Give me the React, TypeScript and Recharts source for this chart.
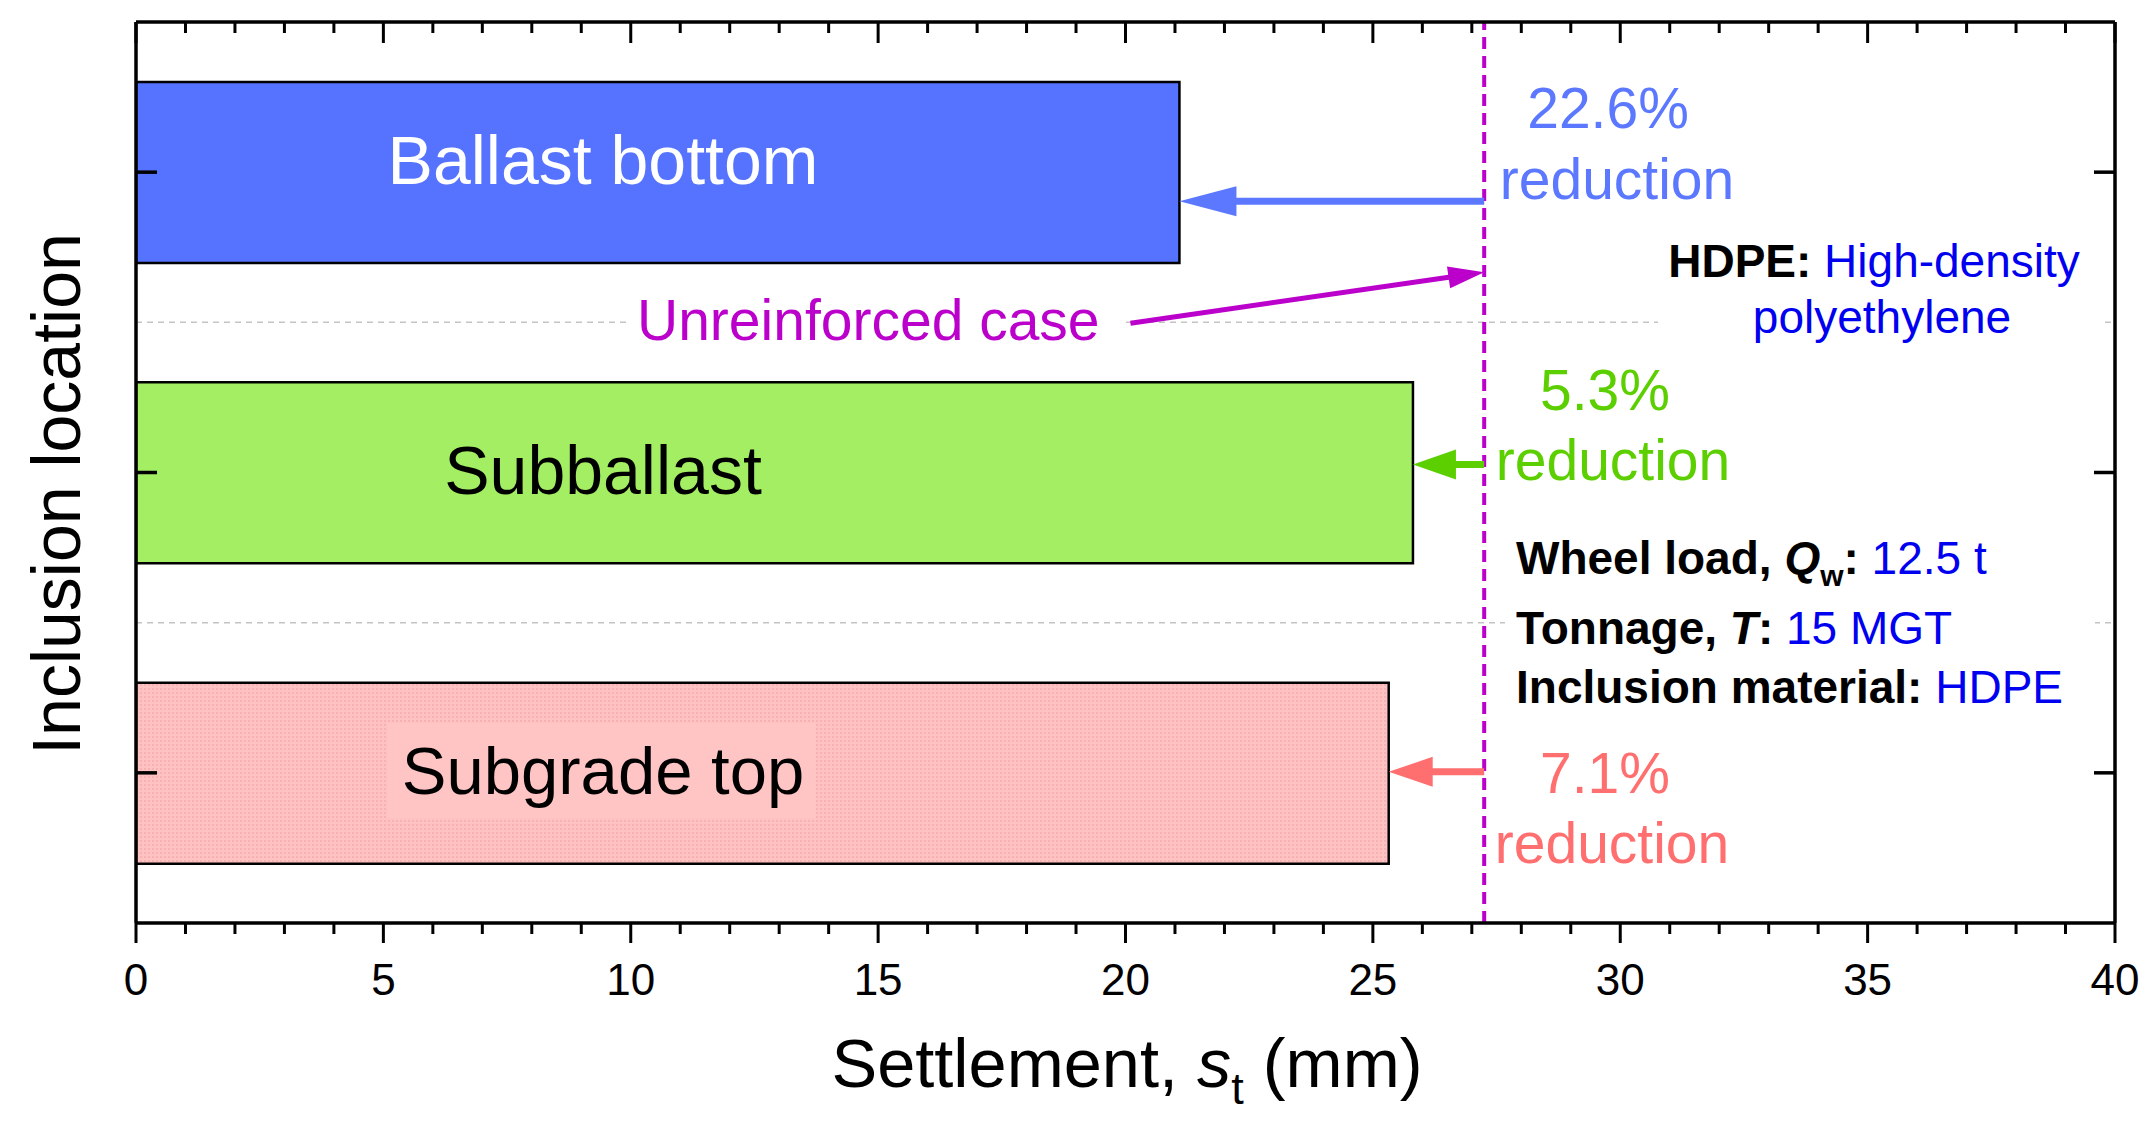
import React from "react";
import { BarChart, Bar, XAxis, YAxis, CartesianGrid, ReferenceLine, Cell } from "recharts";

const categories = ["Ballast bottom", "Subballast", "Subgrade top"];
const settlement = [21.09, 25.81, 25.32];
const unreinforced = 27.25;
const reductions = ["22.6%", "5.3%", "7.1%"];
const majorTicks = [0, 5, 10, 15, 20, 25, 30, 35, 40];
const minorTicks = [0, 1, 2, 3, 4, 5, 6, 7, 8, 9, 10, 11, 12, 13, 14, 15, 16, 17, 18, 19, 20, 21, 22, 23, 24, 25, 26, 27, 28, 29, 30, 31, 32, 33, 34, 35, 36, 37, 38, 39, 40];
const pointerFromX = 20.1;

const barFills = ["#5573ff", "#a3ee63", "url(#pinkDots)"];
const accents = ["#5b78ff", "#5ccf00", "#ff6f6f"];
const MAGENTA = "#bb00cc";
const INFO_BLUE = "#0000f0";
const FONT = "'Liberation Sans', Arial, sans-serif";

const data = categories.map((name, i) => ({ name, value: settlement[i] }));

// arrow: pixel shift from the band centre, head length, head half width, line width
const arrowStyles = [
  { shift: 29, head: 57, half: 15, width: 7 },
  { shift: -8, head: 43, half: 15, width: 7 },
  { shift: -1, head: 44, half: 15, width: 7 },
];

const arrowShape =
  (color: string, head: number, half: number, width: number, shiftStart: number, shiftEnd: number) =>
  (p: any) => {
    const x1 = p.x1;
    const x2 = p.x2;
    const y1 = p.y1 + shiftStart;
    const y2 = p.y2 + shiftEnd;
    const dx = x2 - x1;
    const dy = y2 - y1;
    const len = Math.hypot(dx, dy) || 1;
    const ux = dx / len;
    const uy = dy / len;
    const bx = x2 - ux * head;
    const by = y2 - uy * head;
    const nx = -uy;
    const ny = ux;
    return (
      <g>
        <line x1={x1} y1={y1} x2={bx + ux * 2} y2={by + uy * 2} stroke={color} strokeWidth={width} />
        <polygon
          points={`${x2},${y2} ${bx + nx * half},${by + ny * half} ${bx - nx * half},${by - ny * half}`}
          fill={color}
        />
      </g>
    );
  };

const BottomTick = (p: any) => {
  const { x, y, payload } = p;
  const major = majorTicks.includes(payload.value);
  return (
    <g>
      <line x1={x} y1={y} x2={x} y2={y + (major ? 20 : 11)} stroke="#000" strokeWidth={3} />
      {major && (
        <text x={x} y={y + 41} dy="0.71em" textAnchor="middle" fontSize={44} fill="#000" fontFamily={FONT}>
          {payload.value}
        </text>
      )}
    </g>
  );
};

const TopTick = (p: any) => {
  const { x, y, payload } = p;
  const major = majorTicks.includes(payload.value);
  return <line x1={x} y1={y} x2={x} y2={y + (major ? 21 : 11)} stroke="#000" strokeWidth={3} />;
};

const LeftTick = (p: any) => <line x1={p.x} y1={p.y} x2={p.x + 21} y2={p.y} stroke="#000" strokeWidth={3.5} />;
const RightTick = (p: any) => <line x1={p.x} y1={p.y} x2={p.x - 21} y2={p.y} stroke="#000" strokeWidth={3.5} />;

const bandBoundaries = ({ yAxis, offset }: any) => {
  if (yAxis && typeof yAxis.scale === "function") {
    return categories.slice(1).map((c) => yAxis.scale(c));
  }
  return [1, 2].map((k) => offset.top + (offset.height * k) / categories.length);
};

function Annotations() {
  return (
    <svg
      width={2152}
      height={1130}
      style={{ position: "absolute", left: 0, top: 0, pointerEvents: "none", fontFamily: FONT }}
    >
      {/* bar labels */}
      <text x={603} y={184} fontSize={68} fill="#fff" textAnchor="middle">{categories[0]}</text>
      <text x={603} y={494} fontSize={68} fill="#000" textAnchor="middle">{categories[1]}</text>
      <rect x={387} y={723} width={429} height={95} fill="#ffc4c4" />
      <text x={603} y={794} fontSize={67} fill="#000" textAnchor="middle">{categories[2]}</text>

      {/* unreinforced label */}
      <rect x={628} y={290} width={498} height={66} fill="#fff" />
      <text x={637} y={340} fontSize={57} fill={MAGENTA}>Unreinforced case</text>

      {/* reductions */}
      <text x={1608} y={128} fontSize={57} fill={accents[0]} textAnchor="middle">{reductions[0]}</text>
      <text x={1617} y={199} fontSize={57} fill={accents[0]} textAnchor="middle">reduction</text>
      <text x={1605} y={410} fontSize={57} fill={accents[1]} textAnchor="middle">{reductions[1]}</text>
      <text x={1613} y={480} fontSize={57} fill={accents[1]} textAnchor="middle">reduction</text>
      <text x={1605} y={793} fontSize={57} fill={accents[2]} textAnchor="middle">{reductions[2]}</text>
      <text x={1612} y={863} fontSize={57} fill={accents[2]} textAnchor="middle">reduction</text>

      {/* HDPE note */}
      <rect x={1658} y={235} width={446} height={112} fill="#fff" />
      <text x={1874} y={277} fontSize={46} textAnchor="middle">
        <tspan fontWeight="bold" fill="#000">HDPE:</tspan>
        <tspan fill={INFO_BLUE}> High-density</tspan>
      </text>
      <text x={1882} y={333} fontSize={46} textAnchor="middle" fill={INFO_BLUE}>polyethylene</text>

      {/* test info */}
      <rect x={1505} y={530} width={590} height={190} fill="#fff" />
      <text x={1516} y={574} fontSize={46} fontWeight="bold" fill="#000">
        Wheel load, <tspan fontStyle="italic">Q</tspan>
        <tspan fontSize={30} dy={12}>w</tspan>
        <tspan dy={-12}>:</tspan>
        <tspan fontWeight="normal" fill={INFO_BLUE}> 12.5 t</tspan>
      </text>
      <text x={1516} y={644} fontSize={46} fontWeight="bold" fill="#000">
        Tonnage, <tspan fontStyle="italic">T</tspan>:
        <tspan fontWeight="normal" fill={INFO_BLUE}> 15 MGT</tspan>
      </text>
      <text x={1516} y={703} fontSize={46} fontWeight="bold" fill="#000">
        Inclusion material:
        <tspan fontWeight="normal" fill={INFO_BLUE}> HDPE</tspan>
      </text>

      {/* axis titles */}
      <text x={1127} y={1087} fontSize={68.5} fill="#000" textAnchor="middle">
        Settlement, <tspan fontStyle="italic">s</tspan>
        <tspan fontSize={45} dy={17}>t</tspan>
        <tspan dy={-17}> (mm)</tspan>
      </text>
      <text x={80} y={494} fontSize={68} fill="#000" textAnchor="middle" transform="rotate(-90, 80, 494)">
        Inclusion location
      </text>
    </svg>
  );
}

export default function App() {
  const axisLine = { stroke: "#000", strokeWidth: 3.5 };
  return (
    <div style={{ position: "absolute", left: 0, top: 0, width: 2152, height: 1130, background: "#fff" }}>
      <svg width={0} height={0} style={{ position: "absolute" }}>
        <defs>
          <pattern id="pinkDots" width={4} height={4} patternUnits="userSpaceOnUse">
            <rect width={4} height={4} fill="#ffc2c2" />
            <circle cx={1} cy={1} r={0.8} fill="#f09c9c" />
          </pattern>
        </defs>
      </svg>
      <BarChart
        width={2152}
        height={1130}
        layout="vertical"
        data={data}
        margin={{ top: 21, right: 36, bottom: 206, left: 135 }}
        style={{ fontFamily: FONT }}
      >
        <CartesianGrid
          vertical={false}
          stroke="#c4c4c4"
          strokeDasharray="6 5"
          strokeWidth={1.5}
          horizontalCoordinatesGenerator={bandBoundaries}
        />
        <XAxis
          xAxisId="main"
          type="number"
          domain={[0, 40]}
          ticks={minorTicks}
          interval={0}
          allowDataOverflow
          height={1}
          tickSize={0}
          tickMargin={0}
          axisLine={axisLine}
          tickLine={false}
          tick={<BottomTick />}
        />
        <XAxis
          xAxisId="top"
          orientation="top"
          type="number"
          domain={[0, 40]}
          ticks={minorTicks}
          interval={0}
          allowDataOverflow
          height={1}
          tickSize={0}
          tickMargin={0}
          axisLine={axisLine}
          tickLine={false}
          tick={<TopTick />}
        />
        <YAxis
          yAxisId="cat"
          type="category"
          dataKey="name"
          width={1}
          interval={0}
          tickSize={0}
          tickMargin={0}
          axisLine={axisLine}
          tickLine={false}
          tick={<LeftTick />}
        />
        <YAxis
          yAxisId="catRight"
          orientation="right"
          type="category"
          dataKey="name"
          width={1}
          interval={0}
          tickSize={0}
          tickMargin={0}
          axisLine={axisLine}
          tickLine={false}
          tick={<RightTick />}
        />
        <Bar
          dataKey="value"
          xAxisId="main"
          yAxisId="cat"
          barSize={181}
          stroke="#000"
          strokeWidth={2.5}
          isAnimationActive={false}
        >
          {data.map((d, i) => (
            <Cell key={d.name} fill={barFills[i]} />
          ))}
        </Bar>
        <ReferenceLine
          xAxisId="main"
          yAxisId="cat"
          x={unreinforced}
          stroke={MAGENTA}
          strokeWidth={4}
          strokeDasharray="12 7"
        />
        {settlement.map((v, i) => (
          <ReferenceLine
            key={categories[i]}
            xAxisId="main"
            yAxisId="cat"
            segment={[
              { x: unreinforced, y: categories[i] },
              { x: v, y: categories[i] },
            ]}
            shape={arrowShape(
              accents[i],
              arrowStyles[i].head,
              arrowStyles[i].half,
              arrowStyles[i].width,
              arrowStyles[i].shift,
              arrowStyles[i].shift
            )}
          />
        ))}
        <ReferenceLine
          xAxisId="main"
          yAxisId="cat"
          segment={[
            { x: pointerFromX, y: categories[0] },
            { x: unreinforced, y: categories[0] },
          ]}
          shape={arrowShape(MAGENTA, 36, 11, 5, 151, 100)}
        />
      </BarChart>
      <Annotations />
    </div>
  );
}
